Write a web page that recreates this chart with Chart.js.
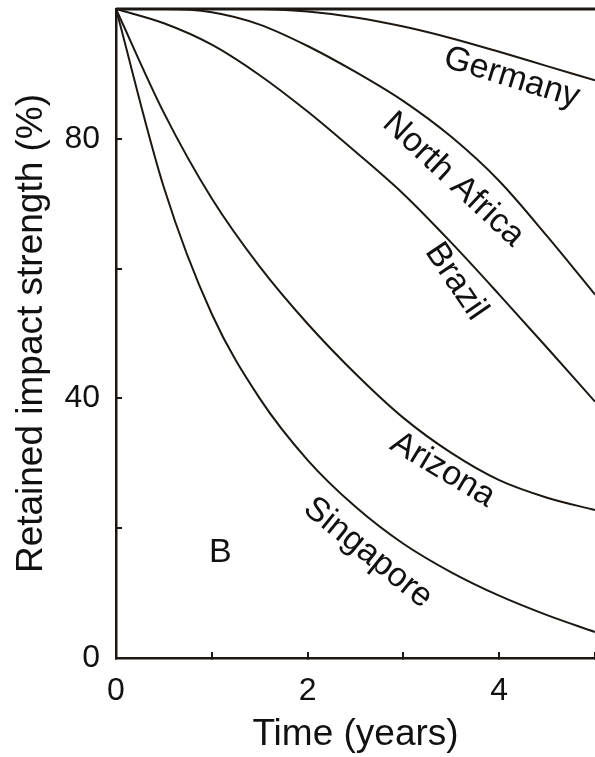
<!DOCTYPE html>
<html>
<head>
<meta charset="utf-8">
<script src="https://cdn.jsdelivr.net/npm/chart.js@4/dist/chart.umd.min.js"></script>
<style>
  html, body { margin: 0; padding: 0; background: #fff; }
  #wrap { width: 595px; height: 757px; }
</style>
</head>
<body>
<div id="wrap"><canvas id="grafico"></canvas></div>
<script>
// Retained impact strength (%) vs exposure time at each site
const years = [0, 0.5, 1, 1.5, 2, 2.5, 3, 3.5, 4, 4.5, 5];
const germany     = [100, 100, 100, 100, 99.6, 98.7, 97.3, 95.5, 93.4, 91.2, 89];
const northAfrica = [100, 100, 99.5, 97.6, 94.3, 90.3, 85.8, 80.3, 73.5, 65, 56];
const brazil      = [100, 97.8, 94.5, 89.8, 84.2, 78, 71.5, 64, 56, 47.8, 39.5];
const arizona     = [100, 84, 70.8, 60.3, 51.5, 43.8, 37, 31.6, 27.4, 24.7, 22.8];
const singapore   = [100, 72.5, 53, 40, 30.5, 23.3, 17.6, 13.2, 9.6, 6.6, 4];

const xTicks = [0, 2, 4];
const yTicks = [0, 40, 80];

// text written along each curve (position in data units, angle in degrees)
const curveLabels = [
  { text: 'Germany',      x: 4.13, y: 89.4, angle: 17 },
  { text: 'North Africa', x: 3.52, y: 73.7, angle: 43 },
  { text: 'Brazil',       x: 3.55, y: 58.0, angle: 56 },
  { text: 'Arizona',      x: 3.41, y: 29.0, angle: 31 },
  { text: 'Singapore',    x: 2.63, y: 16.2, angle: 39 },
  { text: 'B',            x: 1.09, y: 16.2, angle: 0 }
];

const FONT = '"Liberation Sans", Arial, Helvetica, sans-serif';
const INK = '#1c1712';

function serie(values) {
  return {
    data: years.map((x, i) => ({ x: x, y: values[i] })),
    borderColor: INK,
    borderWidth: 2,
    pointRadius: 0,
    fill: false,
    cubicInterpolationMode: 'monotone'
  };
}

// heavy line closing the plot at 100 %
const frame = {
  id: 'frame',
  afterDatasetsDraw(chart) {
    const { ctx, chartArea: a } = chart;
    ctx.save();
    ctx.strokeStyle = INK;
    ctx.lineWidth = 3;
    ctx.beginPath();
    ctx.moveTo(a.left, a.top);
    ctx.lineTo(a.right, a.top);
    ctx.stroke();
    ctx.restore();
  }
};

const labels = {
  id: 'labels',
  afterDraw(chart) {
    const { ctx, scales } = chart;
    ctx.save();
    ctx.fillStyle = '#111';
    ctx.font = '34px ' + FONT;
    ctx.textAlign = 'center';
    ctx.textBaseline = 'middle';
    curveLabels.forEach(l => {
      ctx.save();
      ctx.translate(scales.x.getPixelForValue(l.x), scales.y.getPixelForValue(l.y));
      ctx.rotate(l.angle * Math.PI / 180);
      ctx.fillText(l.text, 0, 0);
      ctx.restore();
    });
    ctx.restore();
  }
};

new Chart(document.getElementById('grafico'), {
  type: 'line',
  data: {
    datasets: [
      serie(germany),
      serie(northAfrica),
      serie(brazil),
      serie(arizona),
      serie(singapore)
    ]
  },
  options: {
    responsive: true,
    maintainAspectRatio: false,
    animation: false,
    layout: { padding: { top: 9, right: 0, left: 0, bottom: 0 } },
    plugins: { legend: { display: false }, tooltip: { enabled: false } },
    scales: {
      x: {
        type: 'linear',
        min: 0,
        max: 5,
        ticks: {
          stepSize: 1,
          autoSkip: false,
          maxRotation: 0,
          padding: 20,
          color: '#111',
          font: { family: FONT, size: 32 },
          callback: v => xTicks.includes(v) ? v : ''
        },
        grid: { drawOnChartArea: false, tickLength: -6, color: INK, lineWidth: 2 },
        border: { color: INK, width: 2.5 },
        title: {
          display: true,
          text: 'Time (years)',
          color: '#111',
          font: { family: FONT, size: 37 },
          padding: 0
        },
        afterFit: s => { s.height = 99; s.paddingLeft = 0; s.paddingRight = 0; }
      },
      y: {
        min: 0,
        max: 100,
        ticks: {
          stepSize: 20,
          padding: 22,
          color: '#111',
          font: { family: FONT, size: 32 },
          callback: v => yTicks.includes(v) ? v : ''
        },
        grid: { drawOnChartArea: false, tickLength: -6, color: INK, lineWidth: 2 },
        border: { color: INK, width: 2.5 },
        title: {
          display: true,
          text: 'Retained impact strength (%)',
          color: '#111',
          font: { family: FONT, size: 37 },
          padding: { top: 10, bottom: 0 }
        },
        afterFit: s => { s.width = 116; s.paddingTop = 0; s.paddingBottom = 0; }
      }
    }
  },
  plugins: [frame, labels]
});
</script>
</body>
</html>
